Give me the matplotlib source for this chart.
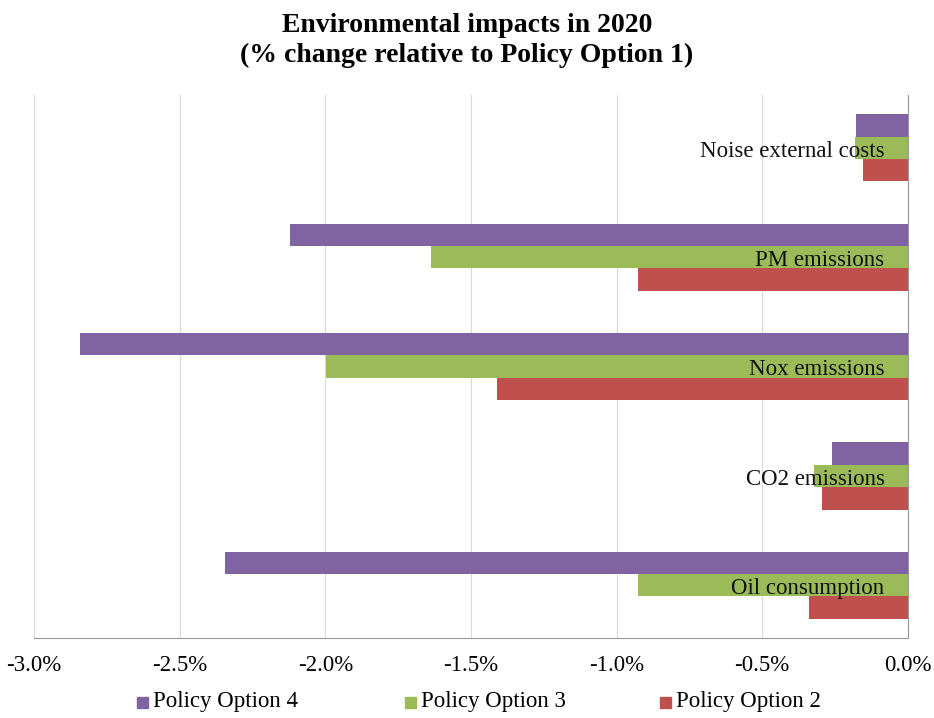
import numpy as np
import matplotlib.pyplot as plt
from matplotlib.ticker import FuncFormatter
from matplotlib.patches import Rectangle

# categories listed bottom to top
categories = ["Oil consumption", "CO2 emissions", "Nox emissions", "PM emissions", "Noise external costs"]
option4 = [-2.345, -0.26, -2.843, -2.121, -0.177]
option3 = [-0.925, -0.323, -1.999, -1.637, -0.183]
option2 = [-0.34, -0.295, -1.411, -0.927, -0.154]
series_names = ["Policy Option 4", "Policy Option 3", "Policy Option 2"]
colors = ["#8064A2", "#9BBB59", "#C0504D"]

plt.rcParams['font.family'] = ['Liberation Serif', 'DejaVu Serif']

fig = plt.figure(figsize=(9.34, 7.18), dpi=100)
ax = fig.add_axes([0.0364, 0.111, 0.9356, 0.757])

y = np.arange(len(categories))
h = 0.205
for off, vals, c, name in zip([h, 0, -h], [option4, option3, option2], colors, series_names):
    ax.barh(y + off, vals, height=h, color=c, label=name)

for yi, name in zip(y, categories):
    ax.text(-0.08, yi - 0.03, name, ha='right', va='center', fontsize=16.5, color='#111111')

ax.set_xlim(-3.0, 0.0)
ax.set_ylim(-0.485, 4.485)
ax.set_xticks(np.arange(-3.0, 0.01, 0.5))
ax.xaxis.set_major_formatter(FuncFormatter(lambda v, p: f"{v:.1f}%"))
ax.tick_params(axis='x', length=0, labelsize=16.5, pad=12)
ax.set_yticks([])
ax.grid(axis='x', color='#d9d9d9', linewidth=0.8)
ax.set_axisbelow(True)
for s in ['top', 'left']:
    ax.spines[s].set_visible(False)
ax.spines['bottom'].set_color('#999999')
ax.spines['right'].set_color('#999999')

fig.text(0.5, 0.982, "Environmental impacts in 2020\n(% change relative to Policy Option 1)",
         ha='center', va='top', fontsize=20, fontweight='bold', linespacing=1.25)

# legend laid out by hand (pixel positions of the squares)
leg_x = [137, 405, 660]
leg_y = 702
sq = 11
for lx, c, name in zip(leg_x, colors, series_names):
    fig.patches.append(Rectangle((lx / 934, (718 - leg_y - sq / 2) / 718), sq / 934, sq / 718,
                                 transform=fig.transFigure, color=c))
    fig.text((lx + sq + 5) / 934, (718 - leg_y) / 718, name, ha='left', va='center', fontsize=16.5)

fig.savefig("out.png", dpi=100)
